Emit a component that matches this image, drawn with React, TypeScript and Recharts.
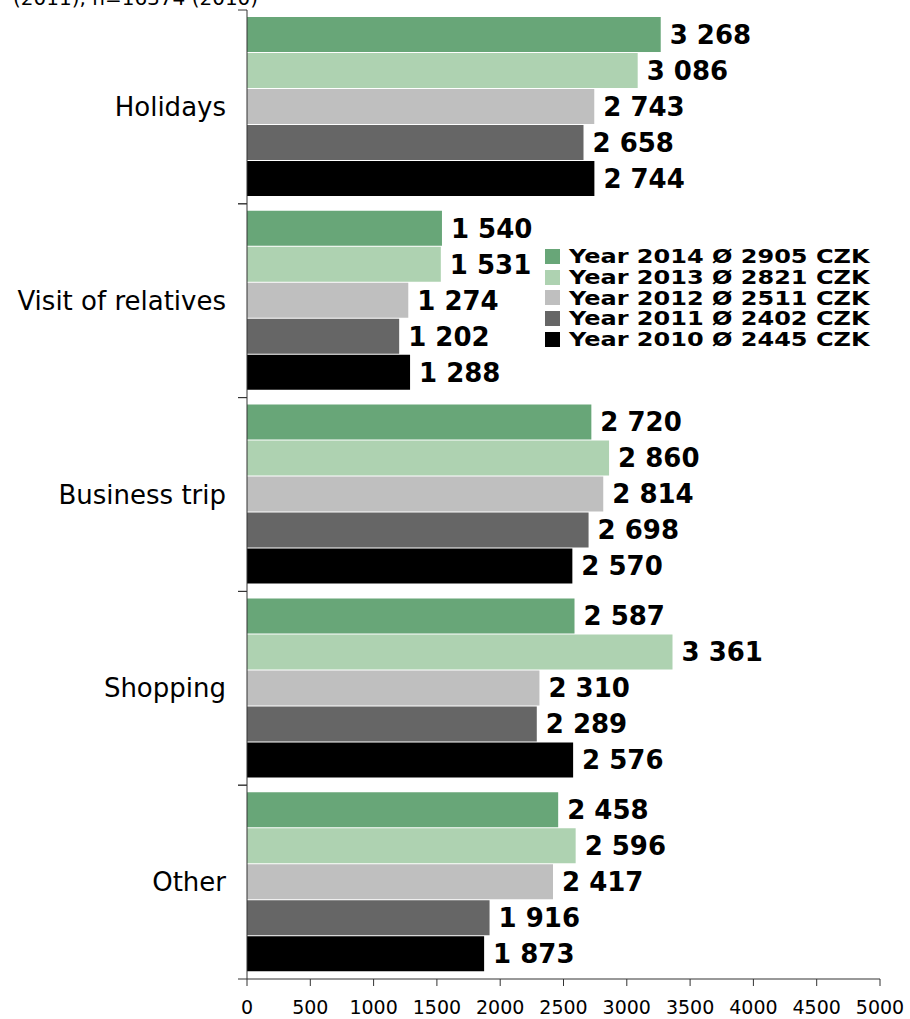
import { BarChart, Bar, XAxis, YAxis, Legend, LabelList } from "recharts";

const categories = ["Holidays", "Visit of relatives", "Business trip", "Shopping", "Other"];

const years = ["2014", "2013", "2012", "2011", "2010"];
const averages = [2905, 2821, 2511, 2402, 2445];
const colors = ["#68a678", "#aed2b1", "#bfbfbf", "#666666", "#000000"];

const values2014 = [3268, 1540, 2720, 2587, 2458];
const values2013 = [3086, 1531, 2860, 3361, 2596];
const values2012 = [2743, 1274, 2814, 2310, 2417];
const values2011 = [2658, 1202, 2698, 2289, 1916];
const values2010 = [2744, 1288, 2570, 2576, 1873];

const xTicks = [0, 500, 1000, 1500, 2000, 2500, 3000, 3500, 4000, 4500, 5000];

const subtitle = "(2011), n=16374 (2010)";

const series = [values2014, values2013, values2012, values2011, values2010];

const data = categories.map((name, i) => {
  const row: Record<string, string | number> = { name };
  years.forEach((y, s) => {
    row["y" + y] = series[s][i];
  });
  return row;
});

const font = "'DejaVu Sans', Verdana, sans-serif";

const fmt = (v: any) => String(v).replace(/\B(?=(\d{3})+(?!\d))/g, " ");

function CategoryTick(props: any) {
  const { x, y, payload } = props;
  const half = payload && payload.offset ? payload.offset : 96.9;
  return (
    <g>
      <line x1={x - 9} x2={x} y1={y - half} y2={y - half} stroke="#333" strokeWidth={1} />
      <line x1={x - 9} x2={x} y1={y + half} y2={y + half} stroke="#333" strokeWidth={1} />
      <text
        x={x - 21}
        y={y}
        textAnchor="end"
        dominantBaseline="central"
        fontSize={26}
        fontFamily={font}
        fill="#000"
      >
        {payload.value}
      </text>
    </g>
  );
}

function ValueTick(props: any) {
  const { x, y, payload } = props;
  return (
    <text x={x} y={y + 26} textAnchor="middle" fontSize={19} fontFamily={font} fill="#000">
      {payload.value}
    </text>
  );
}

function LegendContent() {
  return (
    <div style={{ fontFamily: font, fontWeight: "bold", fontSize: 20, lineHeight: "20.75px" }}>
      {years.map((y, i) => (
        <div key={y} style={{ display: "flex", alignItems: "center", whiteSpace: "nowrap" }}>
          <span
            style={{
              display: "inline-block",
              width: 15,
              height: 15,
              background: colors[i],
              marginRight: 9,
            }}
          />
          <span style={{ display: "inline-block", transform: "scaleX(1.2)", transformOrigin: "left center" }}>
            {`Year ${y} Ø ${averages[i]} CZK`}
          </span>
        </div>
      ))}
    </div>
  );
}

export default function App() {
  return (
    <div style={{ position: "absolute", left: 0, top: 0, width: 910, height: 1019, background: "#fff" }}>
      <div
        style={{
          position: "absolute",
          left: 13,
          top: -12,
          fontFamily: font,
          fontSize: 20,
          lineHeight: "20px",
          whiteSpace: "nowrap",
          color: "#000",
        }}
      >
        {subtitle}
      </div>
      <BarChart
        width={910}
        height={1019}
        data={data}
        layout="vertical"
        margin={{ top: 10, right: 30, bottom: 0, left: 0 }}
        barGap={1}
        style={{ overflow: "visible" }}
      >
        <XAxis
          type="number"
          domain={[0, 5000]}
          ticks={xTicks}
          interval={0}
          height={40}
          tickSize={7}
          tickMargin={2}
          stroke="#333"
          tick={<ValueTick />}
        />
        <YAxis
          type="category"
          dataKey="name"
          width={247}
          tickSize={0}
          tickMargin={0}
          stroke="#333"
          tick={<CategoryTick />}
        />
        <Legend
          layout="vertical"
          align="center"
          verticalAlign="middle"
          wrapperStyle={{ left: 545, top: 246, width: 360 }}
          content={<LegendContent />}
        />
        {years.map((y, i) => (
          <Bar key={y} dataKey={"y" + y} fill={colors[i]} barSize={35} isAnimationActive={false}>
            <LabelList
              dataKey={"y" + y}
              position="right"
              offset={9}
              formatter={fmt}
              style={{ fontSize: 26, fontWeight: "bold", fontFamily: font, fill: "#000" }}
            />
          </Bar>
        ))}
      </BarChart>
    </div>
  );
}
